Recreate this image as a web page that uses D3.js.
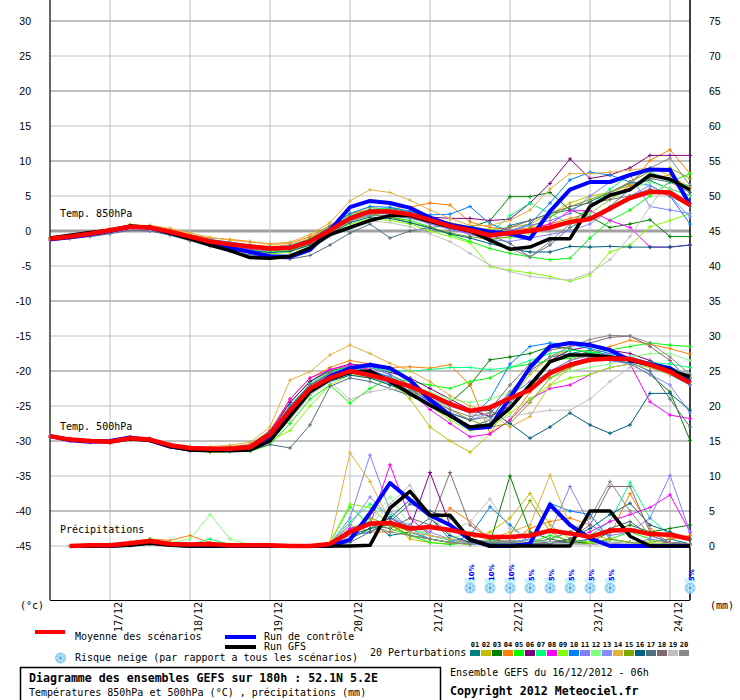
<!DOCTYPE html>
<html>
<head>
<meta charset="utf-8">
<script src="https://cdn.jsdelivr.net/npm/d3@7"></script>
<style>
    body { margin: 0; background: #fff; }
    text { font-family: "DejaVu Sans Mono", monospace; font-size: 10px; }
</style>
</head>
<body>
<svg id="chart" width="740" height="700"></svg>
<script>
// Time steps: 6h from 16/12 06h (index 0) to 24/12 06h (index 32)
const dayLabels = ["17/12", "18/12", "19/12", "20/12", "21/12", "22/12", "23/12", "24/12"];
const dayIndex = [3, 7, 11, 15, 19, 23, 27, 31];
const tempTicks = [30, 25, 20, 15, 10, 5, 0, -5, -10, -15, -20, -25, -30, -35, -40, -45];
const precTicks = [75, 70, 65, 60, 55, 50, 45, 40, 35, 30, 25, 20, 15, 10, 5, 0];

const pertColors = ["#008080", "#c0c000", "#008000", "#ff8000", "#00ff00", "#800080", "#00ff80",
    "#ff00ff", "#80ff00", "#0080ff", "#8080ff", "#80ff80", "#8888ff", "#e0b040", "#80a800",
    "#006080", "#507080", "#806870", "#c0c0c0", "#888888"];

// Temperature 850hPa
const mean850 = [-1.1,-0.8,-0.4,0.1,0.6,0.5,-0.1,-0.8,-1.5,-1.9,-2.2,-2.5,-2.4,-1.5,0.1,1.8,2.8,2.8,2.4,1.6,0.7,0.1,-0.6,-0.3,0.0,0.5,1.3,1.7,3.2,4.7,5.6,5.5,3.7];
const ctl850 = [-1.2,-0.9,-0.5,0.0,0.6,0.5,-0.3,-1.0,-1.8,-2.4,-3.0,-3.6,-3.7,-2.7,0.1,3.4,4.3,4.0,3.3,1.9,0.9,0.4,-0.1,-0.4,-1.1,2.8,5.9,7.0,7.0,8.0,8.8,8.7,3.7];
const gfs850 = [-1.0,-0.6,-0.2,0.1,0.7,0.5,-0.3,-1.1,-2.0,-2.8,-3.8,-3.9,-3.6,-2.4,-0.5,0.5,1.5,2.2,2.2,1.4,0.6,0.0,-1.3,-2.6,-2.3,-1.1,-1.1,3.5,5.1,5.9,8.0,7.4,5.9];
const pert850 = [
    [-1.1,-0.8,-0.3,0.2,0.7,0.6,-0.2,-0.9,-1.6,-2.0,-2.4,-2.7,-2.6,-1.6,0.3,1.9,2.5,2.6,2.0,1.2,0.3,-0.4,-1.0,0.8,1.5,2.5,3.0,4.2,5.5,6.8,7.2,6.0,5.1],
    [-1.0,-0.7,-0.3,0.3,0.9,0.7,0.0,-0.6,-1.3,-1.6,-2.0,-2.2,-2.1,-1.0,0.8,2.4,3.4,3.0,2.4,1.8,1.2,0.6,0.2,0.5,1.0,2.4,4.0,5.0,5.5,6.5,7.5,8.0,6.2],
    [-1.1,-0.8,-0.4,0.1,0.6,0.4,-0.2,-1.0,-1.7,-2.1,-2.5,-2.8,-2.6,-1.2,0.5,2.0,3.0,3.2,2.8,2.0,1.0,0.5,1.5,4.9,4.9,5.5,3.0,2.0,0.5,1.0,1.6,-0.8,-0.8],
    [-1.2,-0.9,-0.5,0.0,0.5,0.6,0.2,-0.5,-1.0,-1.2,-1.5,-1.9,-1.8,-0.8,0.8,2.5,3.0,3.2,3.4,4.0,3.7,1.3,0.5,0.2,0.4,1.0,1.8,2.5,4.5,6.5,10.1,11.6,8.2],
    [-1.0,-0.8,-0.4,0.1,0.6,0.5,-0.2,-1.0,-1.8,-2.3,-2.7,-3.0,-2.8,-1.8,-0.2,1.5,2.3,2.0,1.5,0.6,-0.5,-1.5,-2.5,-3.2,-3.7,-4.1,-3.9,-1.0,1.5,3.0,5.0,7.0,8.2],
    [-1.1,-0.8,-0.4,0.2,0.6,0.5,-0.1,-0.8,-1.4,-1.8,-2.1,-2.3,-2.2,-1.3,0.4,2.0,2.6,2.7,2.5,2.0,1.8,1.8,1.5,1.7,4.0,6.8,10.3,7.5,8.0,9.0,10.8,10.8,10.8],
    [-1.1,-0.7,-0.3,0.1,0.6,0.6,0.0,-0.7,-1.3,-1.8,-2.0,-2.4,-2.2,-1.2,0.5,2.2,3.1,3.3,2.8,1.8,0.8,0.2,-0.3,2.2,4.0,2.5,1.0,3.5,6.0,8.0,8.5,7.0,6.5],
    [-1.1,-0.9,-0.6,-0.2,0.2,0.1,-0.5,-1.3,-2.0,-2.3,-2.6,-2.8,-2.6,-1.6,0.2,1.9,2.9,2.6,2.0,1.0,0.3,-0.4,-0.9,-0.5,0.2,1.0,2.9,2.9,1.5,0.5,-2.3,-2.3,-2.0],
    [-1.1,-0.8,-0.4,0.1,0.8,0.5,-0.3,-1.2,-2.0,-2.6,-3.0,-3.3,-3.0,-2.0,-0.4,1.0,1.8,1.5,1.0,0.0,-0.8,-1.7,-5.1,-5.6,-6.0,-6.5,-7.2,-6.3,-3.0,-2.0,0.6,1.5,2.5],
    [-1.2,-0.8,-0.4,0.0,0.5,0.5,0.0,-0.6,-1.2,-1.6,-2.0,-2.3,-2.1,-1.2,0.6,2.5,3.5,3.4,2.8,2.3,2.4,3.5,1.0,0.0,1.0,4.0,7.3,8.4,8.0,7.0,6.5,5.0,1.0],
    [-1.1,-0.8,-0.4,0.1,0.6,0.4,-0.2,-0.9,-1.6,-2.0,-2.3,-2.6,-2.5,-1.7,-0.1,1.6,2.4,2.5,2.2,1.4,0.6,0.0,-0.5,0.0,0.8,1.5,2.5,5.0,7.0,8.0,3.5,3.0,2.5],
    [-1.0,-0.7,-0.3,0.2,0.7,0.6,0.0,-0.7,-1.4,-1.8,-2.1,-2.4,-2.3,-1.4,0.2,1.8,2.7,2.6,2.1,1.3,0.4,-0.2,-0.8,-1.0,-0.5,0.5,1.5,2.5,4.5,6.0,7.0,6.0,5.0],
    [-1.1,-0.8,-0.5,0.0,0.5,0.4,-0.3,-1.0,-1.7,-2.1,-2.4,-2.6,-2.5,-1.5,0.2,1.9,2.6,2.4,1.9,1.0,0.3,-0.5,-1.2,-1.5,-1.0,-0.5,0.0,1.0,3.0,5.0,6.5,5.0,2.0],
    [-1.1,-0.7,-0.2,0.3,0.8,0.8,0.4,-0.3,-0.9,-1.3,-1.6,-1.8,-1.6,-0.5,1.2,4.3,5.9,5.5,4.4,3.0,1.8,0.8,0.8,1.5,3.0,6.0,8.2,8.2,8.4,8.7,9.0,8.0,6.0],
    [-1.0,-0.7,-0.3,0.2,0.8,0.6,0.0,-0.8,-1.6,-2.0,-2.3,-2.5,-2.3,-1.4,0.4,2.0,2.5,2.0,1.2,0.5,-0.3,-0.8,-1.2,-0.8,0.5,2.0,3.5,4.5,5.5,7.0,8.5,9.0,7.5],
    [-1.1,-0.8,-0.4,0.0,0.5,0.4,-0.3,-1.1,-1.9,-2.4,-2.8,-3.1,-2.9,-2.0,-0.4,1.2,2.0,1.8,1.2,0.4,-0.4,-1.0,-1.8,-2.5,-3.0,-3.0,-2.2,-2.3,-2.2,-2.3,-2.3,-2.3,-2.0],
    [-1.3,-1.1,-0.8,-0.4,0.1,0.0,-0.6,-1.4,-2.2,-2.9,-3.4,-3.9,-4.0,-3.5,-2.0,-0.3,1.0,-1.0,0.0,0.5,0.8,0.2,-0.5,-1.8,-3.7,-2.0,0.5,2.0,3.5,6.0,7.5,7.0,5.5],
    [-1.1,-0.8,-0.4,0.1,0.6,0.5,-0.1,-0.8,-1.5,-1.9,-2.2,-2.4,-2.3,-1.4,0.3,2.0,2.9,2.9,2.3,1.5,0.6,0.0,-0.4,0.5,1.5,2.5,3.5,4.0,4.5,5.0,6.0,5.0,3.5],
    [-1.2,-1.0,-0.6,-0.2,0.3,0.2,-0.4,-1.2,-2.0,-2.6,-3.1,-3.5,-3.3,-2.4,-0.8,0.6,1.4,1.2,0.6,-0.4,-1.5,-3.2,-4.9,-5.8,-6.5,-6.8,-7.0,-6.0,-4.1,-0.8,3.5,7.5,4.0],
    [-1.1,-0.8,-0.4,0.1,0.6,0.5,-0.2,-0.9,-1.6,-2.1,-2.5,-2.8,-2.6,-1.8,-0.2,1.4,2.2,2.2,1.8,1.2,0.5,-0.2,-1.5,-2.5,-3.7,-1.5,1.0,3.5,5.5,7.0,9.0,10.4,6.5]
];

// Temperature 500hPa
const mean500 = [-29.3,-29.8,-30.0,-30.1,-29.6,-29.8,-30.6,-31.0,-31.1,-31.1,-30.9,-29.1,-25.6,-22.5,-21.0,-20.0,-20.6,-21.3,-22.2,-23.4,-24.7,-25.7,-25.2,-23.9,-22.7,-20.3,-19.1,-18.4,-18.2,-18.3,-19.1,-20.1,-21.7];
const ctl500 = [-29.3,-29.9,-30.1,-30.0,-29.5,-29.9,-30.8,-31.2,-31.3,-31.3,-31.2,-29.5,-26.0,-22.8,-20.8,-19.6,-19.1,-19.6,-21.3,-24.1,-26.3,-28.2,-28.0,-23.8,-19.5,-16.5,-16.0,-16.3,-17.0,-18.5,-19.0,-19.6,-21.5];
const gfs500 = [-29.3,-29.8,-30.0,-30.1,-29.7,-29.9,-30.8,-31.3,-31.4,-31.4,-31.3,-30.0,-26.5,-23.0,-21.2,-20.2,-20.0,-21.5,-23.2,-24.9,-26.4,-28.0,-27.7,-25.3,-22.0,-18.7,-17.7,-17.7,-18.0,-18.4,-19.1,-19.9,-20.8];
const pert500 = [
    [-29.3,-29.8,-30.0,-30.1,-29.6,-29.8,-30.5,-31.0,-31.2,-31.0,-30.8,-29.0,-25.0,-22.0,-20.5,-19.5,-20.0,-21.0,-22.5,-24.5,-26.5,-28.0,-27.0,-23.0,-20.0,-18.0,-17.5,-17.0,-17.8,-18.5,-19.5,-20.5,-22.0],
    [-29.3,-29.8,-30.1,-30.2,-29.7,-29.8,-30.6,-31.2,-31.4,-31.3,-31.0,-29.5,-26.0,-22.5,-20.0,-19.3,-19.8,-21.5,-24.0,-28.0,-30.0,-31.6,-29.0,-24.0,-20.5,-18.0,-17.0,-17.2,-18.0,-18.5,-19.3,-20.0,-21.0],
    [-29.3,-29.8,-30.0,-30.1,-29.5,-29.7,-30.5,-31.0,-31.1,-31.0,-30.7,-28.8,-24.5,-21.5,-20.0,-19.4,-19.5,-20.5,-22.0,-23.5,-24.5,-22.0,-18.4,-18.0,-17.5,-16.5,-16.8,-17.5,-18.0,-19.0,-20.5,-23.0,-29.9],
    [-29.4,-29.9,-30.0,-30.0,-29.5,-29.8,-30.6,-31.0,-31.0,-30.8,-30.5,-28.5,-24.0,-21.0,-19.5,-18.5,-19.0,-19.5,-19.4,-19.6,-19.1,-22.0,-28.9,-27.0,-23.0,-20.0,-18.5,-17.5,-16.5,-15.6,-16.2,-16.8,-17.6],
    [-29.3,-29.8,-30.0,-30.2,-29.8,-29.9,-30.7,-31.2,-31.4,-31.5,-31.5,-30.5,-27.5,-24.0,-22.0,-24.6,-22.5,-21.0,-21.5,-22.0,-22.5,-21.5,-21.0,-19.5,-19.0,-18.5,-18.2,-17.5,-17.0,-16.5,-16.0,-16.3,-16.5],
    [-29.3,-29.8,-30.0,-30.1,-29.6,-29.7,-30.5,-30.9,-31.0,-30.9,-30.6,-28.6,-24.5,-21.5,-19.8,-19.0,-19.3,-20.2,-21.0,-22.5,-24.0,-25.5,-26.5,-25.0,-22.0,-18.5,-17.0,-16.5,-17.0,-17.5,-18.5,-19.8,-21.0],
    [-29.3,-29.8,-30.0,-30.0,-29.5,-29.8,-30.6,-31.1,-31.2,-31.1,-30.9,-29.0,-25.0,-21.8,-20.2,-19.3,-19.5,-20.0,-20.0,-19.8,-19.5,-19.5,-19.8,-19.5,-18.5,-17.5,-17.0,-17.3,-17.8,-18.0,-18.8,-19.0,-19.5],
    [-29.3,-29.8,-30.0,-30.2,-29.7,-29.9,-30.8,-31.4,-31.5,-31.3,-31.0,-28.9,-24.0,-21.0,-19.8,-19.2,-19.8,-21.0,-23.0,-25.5,-27.5,-29.4,-29.0,-27.0,-24.0,-22.5,-22.0,-20.5,-19.5,-19.0,-24.4,-26.3,-26.8],
    [-29.3,-29.8,-30.0,-30.1,-29.6,-29.8,-30.7,-31.3,-31.6,-31.5,-31.3,-30.0,-28.5,-25.0,-22.0,-20.5,-21.0,-22.0,-23.5,-25.0,-27.0,-28.5,-28.0,-26.0,-24.0,-22.0,-21.0,-20.5,-19.5,-19.0,-19.5,-20.0,-21.0],
    [-29.3,-29.8,-30.0,-30.0,-29.5,-29.8,-30.5,-31.0,-31.1,-31.0,-30.8,-28.8,-25.0,-22.0,-20.5,-19.8,-20.0,-20.8,-22.5,-24.5,-26.0,-27.0,-24.0,-19.0,-16.5,-16.0,-16.2,-16.8,-17.5,-18.0,-18.8,-19.5,-20.5],
    [-29.3,-29.8,-30.0,-30.1,-29.6,-29.9,-30.6,-31.0,-31.1,-31.0,-30.9,-29.2,-25.8,-22.3,-20.3,-19.6,-19.5,-20.5,-22.0,-24.0,-26.0,-28.0,-27.5,-25.0,-22.5,-20.0,-18.5,-17.8,-17.5,-18.0,-19.0,-20.0,-22.0],
    [-29.3,-29.8,-30.0,-30.1,-29.6,-29.8,-30.6,-31.0,-31.2,-31.1,-30.9,-29.2,-25.5,-22.5,-20.8,-20.0,-20.3,-21.0,-22.0,-23.0,-24.0,-24.5,-24.0,-23.0,-22.0,-21.0,-20.0,-19.5,-19.0,-18.0,-17.5,-17.5,-18.5],
    [-29.2,-29.6,-29.9,-30.0,-29.5,-29.6,-30.4,-30.9,-31.0,-30.9,-30.7,-28.9,-25.5,-22.5,-20.8,-20.2,-20.8,-21.8,-23.0,-24.5,-26.0,-27.0,-26.0,-23.5,-21.5,-20.5,-19.0,-18.0,-18.5,-19.0,-20.5,-22.0,-26.0],
    [-29.3,-29.7,-29.9,-30.0,-29.5,-29.7,-30.4,-30.8,-30.8,-30.6,-30.2,-28.0,-21.3,-20.1,-17.7,-16.3,-17.5,-18.9,-20.0,-21.5,-23.5,-25.0,-26.0,-28.0,-26.5,-22.0,-19.5,-18.5,-18.0,-18.5,-19.5,-20.5,-21.5],
    [-29.3,-29.8,-30.0,-30.1,-29.6,-29.8,-30.6,-31.1,-31.3,-31.2,-31.0,-29.3,-25.8,-22.8,-21.2,-20.3,-20.8,-21.5,-22.5,-24.0,-25.5,-27.0,-28.0,-27.5,-24.5,-21.0,-19.5,-18.5,-18.0,-18.5,-19.0,-19.8,-21.0],
    [-29.3,-29.8,-30.0,-30.1,-29.6,-29.9,-30.7,-31.2,-31.3,-31.2,-31.0,-29.3,-26.0,-23.0,-21.5,-20.6,-21.0,-22.0,-23.0,-24.0,-25.0,-25.8,-25.6,-27.5,-29.6,-28.0,-26.0,-27.7,-28.9,-27.7,-23.2,-23.2,-25.6],
    [-29.4,-30.0,-30.2,-30.3,-29.8,-30.0,-30.8,-31.3,-31.5,-31.4,-31.3,-30.5,-31.0,-27.7,-22.2,-21.0,-21.5,-22.5,-23.5,-24.8,-26.0,-27.0,-26.5,-24.5,-22.0,-20.0,-19.0,-18.5,-18.5,-18.8,-20.0,-24.0,-28.0],
    [-29.3,-29.8,-30.0,-30.1,-29.6,-29.8,-30.6,-31.0,-31.1,-31.0,-30.8,-29.0,-25.3,-22.0,-20.3,-19.7,-20.3,-21.0,-22.0,-23.5,-25.0,-26.0,-25.5,-22.0,-19.0,-17.0,-16.5,-16.0,-15.2,-15.0,-16.5,-18.5,-21.5],
    [-29.3,-29.8,-30.1,-30.2,-29.7,-29.9,-30.7,-31.2,-31.3,-31.3,-31.2,-29.8,-27.0,-23.5,-21.5,-24.1,-23.0,-22.5,-23.0,-24.0,-25.0,-26.0,-27.0,-26.5,-26.0,-25.6,-25.6,-24.0,-21.5,-19.5,-19.0,-19.5,-20.5],
    [-29.3,-29.8,-30.0,-30.1,-29.6,-29.8,-30.6,-31.0,-31.1,-31.0,-30.8,-29.0,-25.5,-22.3,-20.6,-20.0,-20.5,-21.5,-22.8,-24.2,-25.5,-26.5,-26.0,-23.0,-20.0,-18.0,-16.5,-15.5,-14.9,-15.0,-16.0,-18.0,-20.5]
];

// Precipitation (mm per 6h), no value at the analysis time
const meanPrec = [null,0,0.1,0.1,0.4,0.7,0.3,0.2,0.3,0.1,0.1,0.1,0,0,0.3,2.0,3.2,3.3,2.5,2.7,2.3,1.7,1.3,1.3,1.5,2.2,1.8,1.3,2.2,2.3,1.7,1.6,1.0];
const ctlPrec = [null,0,0,0,0.2,0.5,0.2,0,0,0,0,0,0,0,0,0.9,4.7,9.0,6.6,4.4,3.0,0.9,0,0,0.3,5.9,3.0,1.1,0,0,0,0,0];
const gfsPrec = [null,0,0,0,0.1,0.4,0.1,0,0,0,0,0,0,0,0,0,0.1,5.4,7.8,4.4,4.4,0.9,0,0,0,0,0,5.0,5.0,1.4,0,0,0];
const pertPrec = [
    [null,0,0,0,0.2,0.6,0.3,0.1,0.2,0,0,0,0,0,0.2,2.5,3.5,1.5,2.0,4.0,1.0,0.5,0.3,0.5,1.0,0.5,0.3,1.0,0.5,0.2,0.5,1.0,0.3],
    [null,0,0,0,0.3,0.8,0.5,0.2,0.1,0,0,0,0,0,0.5,3.0,2.0,3.5,1.0,0.5,0.3,1.0,2.0,4.0,7.5,3.0,1.0,0.5,0.3,0.2,0.8,0.4,0.2],
    [null,0,0,0,0.1,0.4,0.2,0,0,0,0,0,0,0,0.1,1.0,2.5,3.0,1.5,1.0,0.5,0.2,0.5,10.0,2.0,1.0,0.5,0.5,2.0,3.0,2.0,2.5,3.0],
    [null,0,0,0.2,0.6,1.0,0.8,1.5,0.5,0.1,0,0,0,0,0.3,1.5,2.0,2.0,3.0,2.0,5.4,3.5,1.0,0.5,2.5,3.5,4.0,3.0,1.5,7.5,2.5,1.0,1.5],
    [null,0,0,0,0.3,1.0,0.4,0.2,0.3,0,0,0,0,0,0.5,5.6,3.0,2.5,1.5,0.5,0.2,0.5,0.3,0.2,0.5,1.5,0.8,0.5,1.0,2.0,1.0,0.5,0.3],
    [null,0,0,0,0.2,0.5,0.3,0.1,0.1,0,0,0,0,0,0.2,2.0,3.0,4.0,2.5,10.5,3.0,1.0,0.5,0.3,0.2,0.5,0.3,0.2,0.5,0.3,0.2,0.5,0.3],
    [null,0,0,0,0.2,0.7,0.3,0.2,1.0,0.2,0,0,0,0,0.3,3.5,6.0,4.5,2.5,1.5,0.8,0.5,0.8,0.5,0.3,1.0,2.0,1.5,3.5,9.1,4.0,1.5,1.0],
    [null,0,0,0,0.3,0.9,0.4,0.2,0.1,0,0,0,0,0,0.3,2.5,3.0,11.6,4.0,1.5,1.0,0.5,0.2,0.1,0.3,0.5,1.0,2.0,3.5,4.5,5.5,7.3,2.0],
    [null,0,0,0,0.2,0.6,0.3,0.1,0.2,0,0,0,0,0,0.5,6.0,5.5,3.0,2.0,1.0,0.5,0.2,0.5,0.3,0.5,0.3,1.0,0.5,0.2,0.3,0.5,0.2,0.3],
    [null,0,0,0,0.2,0.5,0.3,0.1,0.1,0,0,0,0,0,0.2,1.5,2.0,3.5,2.0,1.0,0.5,1.5,5.6,3.0,0.5,6.1,5.0,4.5,1.0,0.5,0.3,0.2,0.1],
    [null,0,0,0,0.3,0.7,0.4,0.2,0.3,0,0,0,0,0,0.3,4.0,13.0,5.0,2.5,1.0,0.5,0.3,0.2,0.5,1.0,2.0,8.5,3.0,1.5,2.0,4.0,10.1,2.0],
    [null,0,0,0.2,0.5,0.8,0.5,1.0,4.5,1.0,0.2,0,0,0,0.4,2.0,3.5,7.0,3.0,1.5,1.0,2.0,1.0,0.5,0.3,0.5,0.2,0.3,0.8,0.5,0.3,0.2,0.1],
    [null,0,0,0,0.2,0.5,0.3,0.1,0.1,0,0,0,0,0,0.2,3.0,7.0,4.0,3.0,2.0,1.0,0.3,0.2,0.1,0.3,0.5,0.3,1.0,0.5,0.3,1.0,0.5,0.2],
    [null,0,0,0,0.3,0.6,0.3,0.2,0.1,0,0,0,0,0,0.5,13.3,9.2,3.5,2.0,1.5,1.0,0.5,1.0,2.0,3.0,10.1,3.0,1.5,1.0,0.5,0.3,0.2,0.1],
    [null,0,0,0,0.2,0.5,0.3,0.1,0.1,0,0,0,0,0,0.3,2.0,4.0,3.0,1.5,1.0,0.5,0.3,0.5,1.5,6.5,2.0,0.5,0.3,1.0,0.5,0.2,0.1,0.1],
    [null,0,0,0,0.2,0.4,0.2,0.1,0.1,0,0,0,0,0,0.2,1.5,2.5,4.0,6.6,4.0,1.5,0.5,0.3,0.2,0.1,0.3,1.0,2.5,4.5,6.1,3.0,2.0,1.0],
    [null,0,0,0,0.1,0.3,0.2,0.1,0.1,0,0,0,0,0,0,0.5,2.0,3.5,6.0,5.0,4.0,1.0,0.5,0.3,0.2,0.5,0.5,1.0,2.5,3.5,1.5,0.5,0.3],
    [null,0,0,0,0.2,0.5,0.3,0.1,0.1,0,0,0,0,0,0.2,2.0,3.0,2.5,4.0,3.0,10.5,3.0,1.0,0.5,0.3,0.5,1.0,3.0,8.5,8.5,2.0,0.5,0.2],
    [null,0,0,0,0.1,0.4,0.2,0.1,0.1,0,0,0,0,0,0.2,1.5,3.0,6.0,8.7,4.0,2.0,3.5,6.7,2.5,1.0,0.5,0.3,0.2,0.5,0.3,0.2,0.1,0.1],
    [null,0,0,0,0.2,0.5,0.3,0.1,0.1,0,0,0,0,0,0.3,2.0,3.0,2.0,1.5,1.0,0.5,0.3,0.5,0.8,0.5,1.0,2.0,4.0,9.2,5.0,1.5,0.5,0.3]
];

// Snow risk (% of scenarios) per time step
const snowIndex = [21, 22, 23, 24, 25, 26, 27, 28, 32];
const snowRisk = [10, 10, 10, 5, 5, 5, 5, 5, 5];

const svg = d3.select("#chart");
svg.append("rect").attr("width", 740).attr("height", 700).attr("fill", "#fff");

// Scales: index of 6h step, temperature (left) and precipitation (right)
const x = d3.scaleLinear().domain([0, 32]).range([50, 690]);
const yT = d3.scaleLinear().domain([-45, 30]).range([546, 21]);
const yP = d3.scaleLinear().domain([0, 75]).range([546, 21]);

// Grid
const grid = svg.append("g");
grid.selectAll("line.h")
    .data(tempTicks)
    .enter()
    .append("line")
    .attr("x1", 50).attr("x2", 690)
    .attr("y1", (d) => yT(d)).attr("y2", (d) => yT(d))
    .attr("stroke", (d) => (d === 0 ? "#a0a0a0" : "#c0c0c0"))
    .attr("stroke-width", (d) => (d === 0 ? 3 : d % 10 === 0 ? 2 : 1));
grid.selectAll("line.v")
    .data(dayIndex)
    .enter()
    .append("line")
    .attr("x1", (d) => x(d)).attr("x2", (d) => x(d))
    .attr("y1", 0).attr("y2", 600)
    .attr("stroke", "#c0c0c0")
    .attr("stroke-width", 1);

// Axes frame
svg.append("line").attr("x1", 50).attr("x2", 50).attr("y1", 0).attr("y2", 600)
    .attr("stroke", "#000").attr("stroke-width", 1.2);
svg.append("line").attr("x1", 690).attr("x2", 690).attr("y1", 0).attr("y2", 600)
    .attr("stroke", "#000").attr("stroke-width", 1.5);
svg.append("line").attr("x1", 50).attr("x2", 690).attr("y1", 600.5).attr("y2", 600.5)
    .attr("stroke", "#000").attr("stroke-width", 1.2);

// Tick labels
const tickFont = "'Liberation Sans', Arial, sans-serif";
svg.selectAll("text.tl")
    .data(tempTicks)
    .enter()
    .append("text")
    .attr("x", 31).attr("y", (d) => yT(d) + 4)
    .attr("text-anchor", "end")
    .style("font-family", tickFont).style("font-size", "10.5px")
    .text((d) => d);
svg.selectAll("text.tr")
    .data(precTicks)
    .enter()
    .append("text")
    .attr("x", 709).attr("y", (d) => yP(d) + 4)
    .style("font-family", tickFont).style("font-size", "10.5px")
    .text((d) => d);
svg.selectAll("text.day")
    .data(dayLabels)
    .enter()
    .append("text")
    .attr("transform", (d, i) => `translate(${x(dayIndex[i]) + 12},602) rotate(-90)`)
    .attr("text-anchor", "end")
    .text((d) => d);
svg.append("text").attr("x", 20).attr("y", 609).text("(°c)");
svg.append("text").attr("x", 710).attr("y", 609).text("(mm)");

// Section labels
svg.append("text").attr("x", 60).attr("y", 217).text("Temp. 850hPa");
svg.append("text").attr("x", 60).attr("y", 430).text("Temp. 500hPa");
svg.append("text").attr("x", 60).attr("y", 533).text("Précipitations");

// Series drawing
const marker = "M-2,0H2M0,-2V2";
function drawSet(pert, ctl, gfs, mean, y) {
    const line = d3.line()
        .defined((d) => d !== null)
        .x((d, i) => x(i))
        .y((d) => y(d));
    const g = svg.append("g");
    pert.forEach((series, k) => {
        g.append("path")
            .attr("d", line(series))
            .attr("fill", "none")
            .attr("stroke", pertColors[k])
            .attr("stroke-width", 1);
        g.selectAll(null)
            .data(series.map((v, i) => [i, v]).filter((p) => p[1] !== null))
            .enter()
            .append("path")
            .attr("d", marker)
            .attr("transform", (p) => `translate(${x(p[0])},${y(p[1])})`)
            .attr("stroke", pertColors[k])
            .attr("stroke-width", 1);
    });
    [[ctl, "#0000ff", 4], [gfs, "#000000", 3.5], [mean, "#ff0000", 4.5]].forEach(([s, c, w]) => {
        g.append("path")
            .attr("d", line(s))
            .attr("fill", "none")
            .attr("stroke", c)
            .attr("stroke-width", w)
            .attr("stroke-linejoin", "round");
    });
}
drawSet(pert850, ctl850, gfs850, mean850, yT);
drawSet(pert500, ctl500, gfs500, mean500, yT);
drawSet(pertPrec, ctlPrec, gfsPrec, meanPrec, yP);

// Snowflake icon
function snowflake(g, cx, cy) {
    const s = g.append("g").attr("transform", `translate(${cx},${cy})`);
    s.append("circle").attr("r", 5.5).attr("fill", "#8ccdf2");
    d3.range(6).forEach((k) => {
        const a = (k * Math.PI) / 3;
        s.append("line")
            .attr("x1", 0).attr("y1", 0)
            .attr("x2", 4.5 * Math.cos(a)).attr("y2", 4.5 * Math.sin(a))
            .attr("stroke", "#e8f8ff").attr("stroke-width", 1);
    });
    s.append("circle").attr("r", 1.2).attr("fill", "#3a8fd8");
}

// Snow risk markers
const snow = svg.append("g");
snowIndex.forEach((idx, i) => {
    const cx = x(idx);
    snow.append("rect").attr("x", cx - 5.5).attr("y", 578).attr("width", 11).attr("height", 5)
        .attr("fill", "#c8f6ff");
    snowflake(snow, cx, 588);
    snow.append("text")
        .attr("transform", `translate(${cx + 3.5},581) rotate(-90)`)
        .style("font-family", "'DejaVu Sans', sans-serif")
        .style("font-size", "7px").style("font-weight", "bold")
        .attr("fill", "#0000ff")
        .text(snowRisk[i] + "%");
});

// Legend
svg.append("line").attr("x1", 35).attr("x2", 65).attr("y1", 632).attr("y2", 632)
    .attr("stroke", "#ff0000").attr("stroke-width", 4);
svg.append("text").attr("x", 75).attr("y", 640).text("Moyenne des scénarios");
svg.append("line").attr("x1", 225).attr("x2", 256).attr("y1", 637).attr("y2", 637)
    .attr("stroke", "#0000ff").attr("stroke-width", 4);
svg.append("text").attr("x", 264).attr("y", 640).text("Run de contrôle");
svg.append("line").attr("x1", 225).attr("x2", 256).attr("y1", 647).attr("y2", 647)
    .attr("stroke", "#000").attr("stroke-width", 4);
svg.append("text").attr("x", 264).attr("y", 650).text("Run GFS");
snowflake(svg, 60.5, 658);
svg.append("text").attr("x", 75).attr("y", 661).text("Risque neige (par rapport a tous les scénarios)");

svg.append("text").attr("x", 370).attr("y", 656).text("20 Perturbations");
const pl = svg.append("g");
pertColors.forEach((c, k) => {
    pl.append("rect").attr("x", 470 + 11 * k).attr("y", 650).attr("width", 10).attr("height", 6)
        .attr("fill", c);
    pl.append("text").attr("x", 475 + 11 * k).attr("y", 647)
        .attr("text-anchor", "middle")
        .style("font-size", "7px").style("font-weight", "bold")
        .text(String(k + 1).padStart(2, "0"));
});

// Title box
svg.append("rect").attr("x", 20.5).attr("y", 667.5).attr("width", 420).attr("height", 40)
    .attr("fill", "none").attr("stroke", "#000").attr("stroke-width", 1.5);
svg.append("text").attr("x", 29).attr("y", 682)
    .style("font-size", "11.6px").style("font-weight", "bold")
    .text("Diagramme des ensembles GEFS sur 180h : 52.1N 5.2E");
svg.append("text").attr("x", 29).attr("y", 696)
    .text("Températures 850hPa et 500hPa (°C) , précipitations (mm)");
svg.append("text").attr("x", 450).attr("y", 676).text("Ensemble GEFS du 16/12/2012 - 06h");
svg.append("text").attr("x", 450).attr("y", 695)
    .style("font-size", "11.6px").style("font-weight", "bold")
    .text("Copyright 2012 Meteociel.fr");
</script>
</body>
</html>
